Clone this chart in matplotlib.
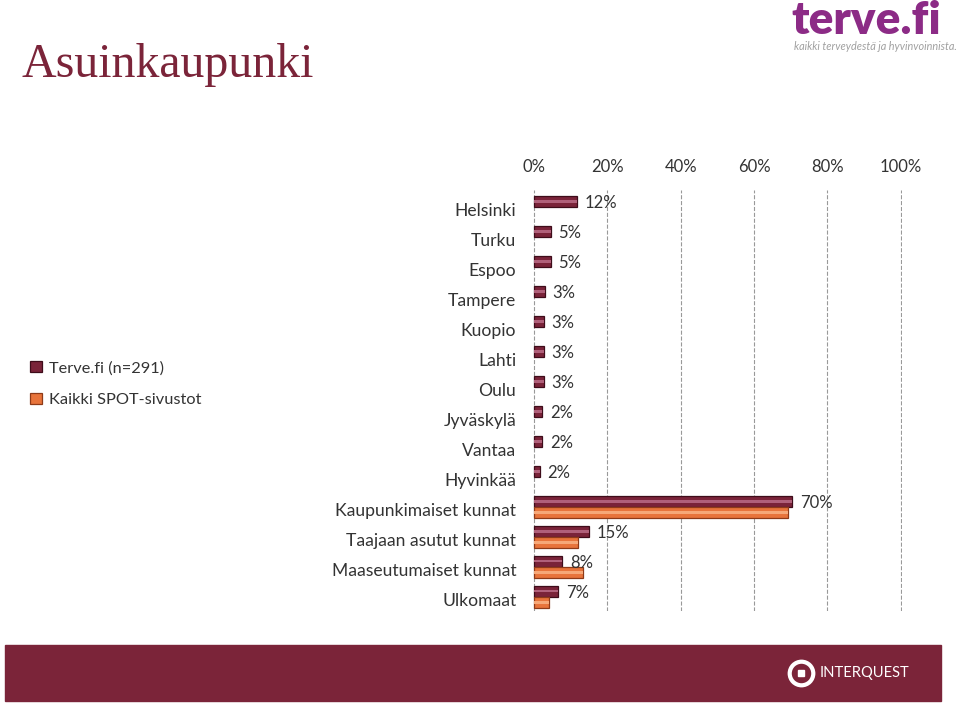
import matplotlib
matplotlib.use('Agg')
import matplotlib.pyplot as plt
import matplotlib.transforms as mtransforms
import numpy as np
from matplotlib.patches import Rectangle
from matplotlib.lines import Line2D

plt.rcParams['font.family'] = ['Lato', 'DejaVu Sans']

kaupungit = ['Helsinki', 'Turku', 'Espoo', 'Tampere', 'Kuopio', 'Lahti', 'Oulu',
             'Jyväskylä', 'Vantaa', 'Hyvinkää', 'Kaupunkimaiset kunnat',
             'Taajaan asutut kunnat', 'Maaseutumaiset kunnat', 'Ulkomaat']
terve = [11.8, 4.6, 4.6, 3.0, 2.6, 2.6, 2.6, 2.3, 2.3, 1.6, 70.4, 15.0, 7.7, 6.6]
spot = [np.nan] * 10 + [69.4, 12.0, 13.4, 4.1]
sarjat = ['Terve.fi (n=291)', 'Kaikki SPOT-sivustot']
xtikit = [0, 20, 40, 60, 80, 100]

vari_terve = '#7A2339'
vari_spot = '#E8743B'
viini = '#7B2439'
teksti = '#333333'

fig = plt.figure(figsize=(9.59, 7.05), dpi=100)
# x-alue hieman yli 0..100, jotta reunojen ruudukkoviivat näkyvät
ax = fig.add_axes([533 / 959, 0.1333, 368.7 / 959, 0.5972])

y = np.arange(len(kaupungit))
h = 0.38
b1 = ax.barh(y - h / 2, terve, height=h, color=vari_terve, edgecolor='#3E0C1A',
             linewidth=0.9, label=sarjat[0], zorder=3)
b2 = ax.barh(y + h / 2, spot, height=h, color=vari_spot, edgecolor='#8E3A18',
             linewidth=0.9, label=sarjat[1], zorder=3)
# kiiltoraita pylväiden keskelle
ax.barh(y - h / 2, terve, height=h * 0.22, color='#B0607A', linewidth=0, zorder=4)
ax.barh(y + h / 2, spot, height=h * 0.22, color='#F6A878', linewidth=0, zorder=4)

# arvot vain Terve.fi-sarjalle
for yy, v in zip(y, terve):
    ax.annotate('%.0f%%' % v, (v, yy - h / 2 + 0.06), xytext=(5.5, 0),
                textcoords='offset points', va='center', ha='left',
                fontsize=12, color=teksti, zorder=5)

ax.set_xlim(-0.27, 100.27)
ax.set_ylim(13.47, -0.57)
ax.set_xticks(xtikit)
ax.set_xticklabels(['%d%%' % t for t in xtikit])
ax.xaxis.tick_top()
ax.tick_params(axis='x', length=0, pad=11, labelsize=12, labelcolor=teksti)
ax.set_yticks(y)
ax.set_yticklabels(kaupungit)
ax.tick_params(axis='y', length=0, pad=12, labelsize=12.6, labelcolor=teksti)
siirto = mtransforms.ScaledTranslation(0, -2 / 72, fig.dpi_scale_trans)
for lab in ax.get_yticklabels():
    lab.set_transform(lab.get_transform() + siirto)
ax.grid(axis='x', linestyle='--', color='#999999', linewidth=0.8, zorder=0)
for s in ax.spines.values():
    s.set_visible(False)

fig.legend(handles=[b1, b2], loc='upper left', bbox_to_anchor=(0.016, 0.509),
           frameon=False, fontsize=11.8, handlelength=0.7, handleheight=0.7,
           handletextpad=0.45, labelspacing=1.05, labelcolor=teksti)

# otsikko
fig.text(22 / 959, 1 - 65 / 705, 'Asuinkaupunki', fontsize=34.5,
         family=['Liberation Serif', 'DejaVu Serif'], color=viini,
         va='center', ha='left')

# terve.fi-logo
fig.text(941 / 959, 1 - 21 / 705, 'terve.fi', fontsize=33, fontweight='heavy',
         color='#8C2B86', ha='right', va='center')
fig.text(957 / 959, 1 - 47 / 705, 'kaikki terveydestä ja hyvinvoinnista.',
         fontsize=7.8, style='italic', color='#A0A0A0', ha='right', va='center')

# alapalkki
fig.add_artist(Rectangle((5 / 959, 1 - 701 / 705), 936 / 959, 56 / 705,
                         transform=fig.transFigure, color=viini, zorder=0))
fig.add_artist(Line2D([801 / 959], [1 - 673 / 705], transform=fig.transFigure,
                      marker='o', markersize=17, markerfacecolor='none',
                      markeredgecolor='white', markeredgewidth=3))
fig.add_artist(Line2D([801 / 959], [1 - 673 / 705], transform=fig.transFigure,
                      marker='s', markersize=4, color='white'))
fig.text(820 / 959, 1 - 673 / 705, 'INTERQUEST', fontsize=10.6, color='white',
         ha='left', va='center')

fig.savefig('out.png', dpi=100)
